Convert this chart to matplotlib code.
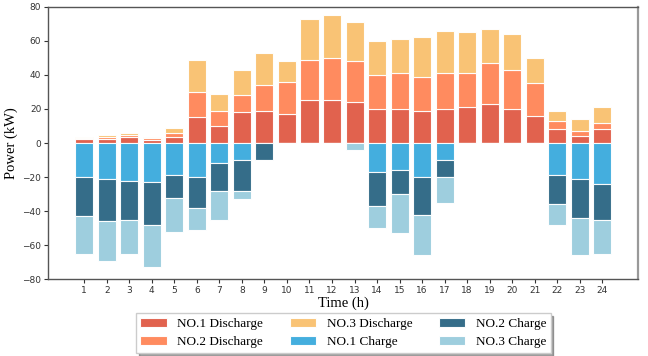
import numpy as np
import matplotlib.pyplot as plt

hours = np.arange(1, 25)

# discharge power (kW) per storage unit
dis1 = [2.2, 2.4, 3.6, 1.8, 3.6, 15, 10, 18, 19, 17, 25, 25, 24, 20, 20, 19, 20, 21, 23, 20, 16, 8, 4, 8]
dis2 = [0.8, 1.2, 1.0, 1.0, 2.2, 15, 9, 10, 15, 19, 24, 25, 24, 20, 21, 20, 21, 20, 24, 23, 19, 5, 3, 4]
dis3 = [0.8, 1.2, 1.4, 0.8, 2.8, 19, 10, 15, 19, 12, 24, 25, 23, 20, 20, 23, 25, 24, 20, 21, 15, 6, 7, 9]

# charge power (kW), negative
ch1 = [-20, -21, -22, -23, -19, -20, -12, -10, 0, 0, 0, 0, 0, -17, -16, -20, -10, 0, 0, 0, 0, -19, -21, -24]
ch2 = [-23, -25, -23, -25, -13, -18, -16, -18, -10, 0, 0, 0, 0, -20, -14, -22, -10, 0, 0, 0, 0, -17, -23, -21]
ch3 = [-22, -23, -20, -25, -20, -13, -17, -5, 0, 0, 0, 0, -4, -13, -23, -24, -15, 0, 0, 0, 0, -12, -22, -20]

labels = ["NO.1 Discharge", "NO.2 Discharge", "NO.3 Discharge",
          "NO.1 Charge", "NO.2 Charge", "NO.3 Charge"]
colors = ["#E05A44", "#FF8556", "#F9C06E", "#3AAADD", "#2A6583", "#99CCDD"]

serif = ["Liberation Serif", "DejaVu Serif"]

fig = plt.figure(figsize=(6.48, 3.56), dpi=100)
ax = fig.add_axes([0.0745, 0.2154, 0.9105, 0.7656])

w = 0.8
kw = dict(width=w, edgecolor="white", linewidth=0.8, alpha=0.95)

d1 = np.array(dis1)
d2 = np.array(dis2)
d3 = np.array(dis3)
ax.bar(hours, d1, color=colors[0], label=labels[0], **kw)
ax.bar(hours, d2, bottom=d1, color=colors[1], label=labels[1], **kw)
ax.bar(hours, d3, bottom=d1 + d2, color=colors[2], label=labels[2], **kw)

c1 = np.array(ch1)
c2 = np.array(ch2)
c3 = np.array(ch3)
ax.bar(hours, c1, color=colors[3], label=labels[3], **kw)
ax.bar(hours, c2, bottom=c1, color=colors[4], label=labels[4], **kw)
ax.bar(hours, c3, bottom=c1 + c2, color=colors[5], label=labels[5], **kw)

ax.set_xlim(-0.6, 25.6)
ax.set_ylim(-80, 80)
ax.set_xticks(hours)
ax.set_yticks(np.arange(-80, 81, 20))
ax.tick_params(labelsize=6.5, length=3, pad=2, colors="#333333")
for s in ax.spines.values():
    s.set_color("#555555")
    s.set_linewidth(1.0)
ax.spines["right"].set_color("#999999")
ax.spines["right"].set_linewidth(1.6)

ax.set_xlabel("Time (h)", family=serif, fontsize=10.5, labelpad=1)
ax.set_ylabel("Power (kW)", family=serif, fontsize=10.5, labelpad=3)

ax.legend(loc="upper center", bbox_to_anchor=(0.5, -0.1), ncol=3,
          prop={"family": serif, "size": 9.5}, frameon=True, shadow=True,
          fancybox=False, columnspacing=2.0, handlelength=2.0,
          handletextpad=0.8, borderpad=0.35, labelspacing=0.45)

fig.savefig("out.png", dpi=100)
